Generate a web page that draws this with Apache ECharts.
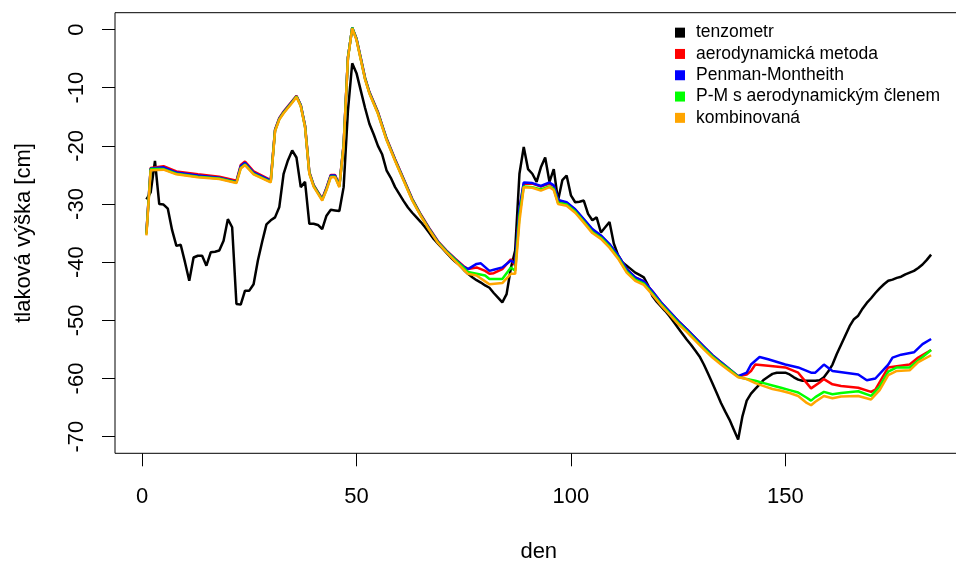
<!DOCTYPE html>
<html lang="cs">
  <head>
    <meta charset="UTF-8" />
    <title>tlaková výška</title>
    <style type="text/css">
      body {
        margin: 0;
        background-color: #fff;
      }

      #main {
        width: 956px;
        height: 561px;
      }
    </style>
  </head>
  <body>
    <div id="main"></div>
    <script src="https://cdn.jsdelivr.net/npm/echarts@6/dist/echarts.min.js"></script>
    <script type="text/javascript">
      // [den, tlaková výška v cm]
      var tenzometr = [
        [1, -29.2], [2, -28], [3, -22.6], [4, -30], [5, -30.1], [6, -30.8], [7, -34.5], [8, -37.2],
        [9, -37], [10, -40], [11, -43.2], [12, -39.2], [13, -38.9], [14, -38.9], [15, -40.6], [16, -38.3],
        [17, -38.2], [18, -38], [19, -36.3], [20, -32.6], [21, -34], [22, -47.2], [23, -47.3], [24, -44.9],
        [25, -44.9], [26, -43.8], [27, -39.7], [28, -36.5], [29, -33.5], [30, -32.8], [31, -32.3], [32, -30.5],
        [33, -24.8], [34, -22.5], [35, -20.8], [36, -22], [37, -27.1], [38, -26.2], [39, -33.4], [40, -33.4],
        [41, -33.6], [42, -34.3], [43, -32], [44, -31], [45, -31.1], [46, -31.2], [47, -27.1], [48, -14],
        [49, -5.8], [50, -7.5], [51, -10.5], [52, -13.5], [53, -16.2], [54, -18], [55, -20], [56, -21.5],
        [57, -24.2], [58, -25.5], [59, -27.1], [60, -28.3], [61, -29.5], [62, -30.6], [63, -31.5], [64, -32.3],
        [65, -33.1], [66, -34], [67, -35], [68, -36], [69, -36.8], [70, -37.6], [71, -38.4], [72, -39.2],
        [73, -39.9], [74, -40.5], [75, -41.3], [76, -42], [77, -42.6], [78, -43.1], [79, -43.5], [80, -44],
        [81, -44.4], [82, -45.3], [83, -46.1], [84, -46.9], [85, -45.5], [86, -41], [87, -38], [88, -24.8],
        [89, -20.2], [90, -24], [91, -24.8], [92, -26.2], [93, -23.7], [94, -22], [95, -26.2], [96, -24],
        [97, -29.4], [98, -25.9], [99, -25.1], [100, -28.5], [101, -29.7], [102, -29.6], [103, -29.4], [104, -31.7],
        [105, -32.8], [106, -32.3], [107, -34.9], [108, -34], [109, -33.1], [110, -36.8], [111, -38.8], [112, -40],
        [113, -40.6], [114, -41.2], [115, -41.8], [116, -42.2], [117, -42.6], [118, -44], [119, -45.8], [120, -46.8],
        [121, -47.6], [122, -48.4], [123, -49.3], [124, -50.3], [125, -51.3], [126, -52.3], [127, -53.3], [128, -54.2],
        [129, -55.2], [130, -56.2], [131, -57.6], [132, -59.2], [133, -60.8], [134, -62.5], [135, -64.2], [136, -65.7],
        [137, -67.1], [138, -68.8], [139, -70.5], [140, -66.5], [141, -63.8], [142, -62.6], [143, -61.8], [144, -61],
        [145, -60.2], [146, -59.7], [147, -59.2], [148, -59], [149, -59], [150, -59], [151, -59.3], [152, -59.8],
        [153, -60.2], [154, -60.4], [155, -60.4], [156, -60.4], [157, -60.4], [158, -60.3], [159, -59.8], [160, -58.8],
        [161, -57.6], [162, -55.8], [163, -54.2], [164, -52.6], [165, -51], [166, -49.8], [167, -49.2], [168, -48],
        [169, -47], [170, -46.2], [171, -45.3], [172, -44.5], [173, -43.8], [174, -43.2], [175, -43], [176, -42.7],
        [177, -42.5], [178, -42.1], [179, -41.8], [180, -41.5], [181, -41], [182, -40.4], [183, -39.6], [184, -38.7]
      ];

      var aerodynamicka = [
        [1, -35], [2, -23.8], [5, -23.5], [8, -24.4], [13, -24.9], [18, -25.3], [22, -26], [23, -23.3],
        [24, -22.7], [26, -24.4], [30, -25.9], [31, -17.2], [32, -15.2], [33, -14.1], [35, -12.3], [36, -11.4],
        [37, -13], [38, -16.5], [39, -24.5], [40, -26.7], [41, -27.9], [42, -29.1], [43, -27.2], [44, -25],
        [45, -25], [46, -26.8], [47, -19.7], [48, -4.8], [49, 0.3], [50, -1.6], [51, -4.9], [52, -8.3],
        [53, -10.7], [55, -14.2], [57, -18.7], [59, -22.3], [61, -25.7], [63, -29.1], [65, -31.8], [67, -34.2],
        [69, -36.4], [71, -38], [73, -39.4], [75, -40.7], [76, -41.2], [78, -40.9], [80, -41.5], [81, -42],
        [82, -41.9], [84, -41.2], [86, -39.5], [87, -40.6], [88, -31], [89, -26.5], [91, -26.5], [93, -27],
        [95, -26.5], [96, -26.9], [97, -29.4], [99, -29.8], [101, -31], [103, -32.7], [105, -34.4], [107, -35.5],
        [109, -37], [111, -38.9], [113, -41.2], [115, -42.6], [117, -43.3], [119, -45], [121, -46.9], [123, -48.5],
        [125, -50.1], [127, -51.5], [129, -53], [131, -54.5], [133, -56], [135, -57.2], [137, -58.4], [139, -59.6],
        [141, -59.3], [142, -58.7], [143, -57.6], [146, -57.8], [150, -58.1], [153, -59], [155, -60.8], [156, -61.7],
        [158, -60.7], [159, -60.1], [161, -61], [163, -61.3], [167, -61.6], [170, -62.3], [171, -61.9], [174, -58.1],
        [176, -57.9], [179, -57.6], [181, -56.4], [184, -55.1]
      ];

      var penmanMontheith = [
        [1, -35], [2, -23.9], [5, -23.7], [8, -24.6], [13, -25.1], [18, -25.5], [22, -26.2], [23, -23.5],
        [24, -22.9], [26, -24.6], [30, -26], [31, -17.3], [32, -15.3], [33, -14.2], [35, -12.4], [36, -11.5],
        [37, -13], [38, -16.6], [39, -24.6], [40, -26.8], [41, -28], [42, -29.2], [43, -27.3], [44, -25.1],
        [45, -25.1], [46, -26.9], [47, -19.8], [48, -4.8], [49, 0.3], [50, -1.6], [51, -5], [52, -8.4],
        [53, -10.8], [55, -14.3], [57, -18.8], [59, -22.4], [61, -25.8], [63, -29.2], [65, -31.9], [67, -34.3],
        [69, -36.5], [71, -38.1], [73, -39.5], [75, -40.8], [76, -41.2], [78, -40.3], [79, -40.2], [81, -41.5],
        [82, -41.3], [84, -40.9], [86, -39.7], [87, -40.2], [88, -30.8], [89, -26.3], [91, -26.4], [93, -26.9],
        [95, -26.3], [96, -26.8], [97, -29.3], [99, -29.7], [101, -30.9], [103, -32.6], [105, -34.3], [107, -35.4],
        [109, -36.9], [111, -38.8], [113, -41.2], [115, -42.6], [117, -43.3], [119, -45], [121, -46.9], [123, -48.5],
        [125, -50.1], [127, -51.5], [129, -53], [131, -54.5], [133, -56], [135, -57.2], [137, -58.4], [139, -59.6],
        [141, -59], [142, -57.6], [144, -56.3], [146, -56.7], [150, -57.6], [153, -58.1], [156, -59], [157, -59],
        [159, -57.6], [161, -58.7], [164, -59], [167, -59.3], [169, -60.3], [171, -60], [174, -57.6], [175, -56.4],
        [177, -55.9], [180, -55.5], [182, -54.1], [184, -53.2]
      ];

      var pmAerodynamicky = [
        [1, -35.2], [2, -24], [5, -24], [8, -24.8], [13, -25.3], [18, -25.6], [22, -26.3], [23, -23.8],
        [24, -23.2], [26, -24.8], [30, -26.2], [31, -17.4], [32, -15.4], [33, -14.3], [35, -12.5], [36, -11.5],
        [37, -13.1], [38, -16.7], [39, -24.7], [40, -26.9], [41, -28.1], [42, -29.3], [43, -27.5], [44, -25.3],
        [45, -25.3], [46, -27], [47, -19.9], [48, -4.9], [49, 0.3], [50, -1.7], [51, -5.1], [52, -8.5],
        [53, -10.9], [55, -14.4], [57, -18.9], [59, -22.5], [61, -25.9], [63, -29.3], [65, -32], [67, -34.4],
        [69, -36.6], [71, -38.2], [73, -39.6], [75, -41], [76, -41.7], [78, -42], [80, -42.3], [81, -42.9],
        [84, -42.9], [86, -40.9], [87, -41.5], [88, -32], [89, -27], [91, -27.1], [93, -27.5], [95, -27],
        [96, -27.4], [97, -29.8], [99, -30.1], [101, -31.3], [103, -33], [105, -34.8], [107, -35.8], [109, -37.3],
        [111, -39.2], [113, -41.6], [115, -43], [117, -43.7], [119, -45.4], [121, -47.2], [123, -48.8], [125, -50.4],
        [127, -51.8], [129, -53.3], [131, -54.8], [133, -56.2], [135, -57.4], [137, -58.5], [139, -59.7], [141, -60.1],
        [143, -60.4], [145, -60.8], [147, -61.2], [149, -61.6], [151, -62], [153, -62.4], [155, -63.3], [156, -63.8],
        [157, -63.2], [159, -62.3], [161, -62.7], [163, -62.5], [167, -62.2], [170, -63], [172, -61.4], [174, -58.8],
        [176, -58.1], [179, -58.1], [181, -56.9], [184, -55.1]
      ];

      var kombinovana = [
        [1, -35.4], [2, -24.2], [5, -24.1], [8, -24.9], [13, -25.4], [18, -25.7], [22, -26.4], [23, -23.9],
        [24, -23.3], [26, -24.9], [30, -26.3], [31, -17.5], [32, -15.5], [33, -14.4], [35, -12.6], [36, -11.6],
        [37, -13.2], [38, -16.8], [39, -24.8], [40, -27], [41, -28.2], [42, -29.4], [43, -27.6], [44, -25.4],
        [45, -25.4], [46, -27.1], [47, -20], [48, -5], [49, 0.2], [50, -1.8], [51, -5.2], [52, -8.6],
        [53, -11], [55, -14.5], [57, -19], [59, -22.6], [61, -26], [63, -29.4], [65, -32.1], [67, -34.5],
        [69, -36.7], [71, -38.3], [73, -39.8], [75, -41.3], [76, -42], [78, -42.3], [80, -43.3], [81, -43.8],
        [84, -43.6], [86, -42], [87, -42], [88, -33], [89, -27.1], [91, -27.2], [93, -27.7], [95, -27.1],
        [96, -27.6], [97, -30], [99, -30.3], [101, -31.5], [103, -33.2], [105, -35], [107, -36], [109, -37.5],
        [111, -39.4], [113, -41.8], [115, -43.2], [117, -43.9], [119, -45.6], [121, -47.4], [123, -49], [125, -50.6],
        [127, -52], [129, -53.5], [131, -55], [133, -56.4], [135, -57.6], [137, -58.7], [139, -59.8], [141, -60.1],
        [143, -60.8], [145, -61.3], [147, -61.8], [149, -62.1], [151, -62.5], [153, -63], [155, -64.2], [156, -64.6],
        [157, -64], [159, -63], [161, -63.4], [163, -63.1], [167, -63], [170, -63.6], [172, -62], [174, -59.4],
        [176, -58.7], [179, -58.6], [181, -57.2], [184, -56]
      ];

      var seriesNames = [
        "tenzometr",
        "aerodynamická metoda",
        "Penman-Montheith",
        "P-M s aerodynamickým členem",
        "kombinovaná"
      ];
      var seriesColors = ["#000000", "#ff0000", "#0000ff", "#00ff00", "#ffa500"];
      var seriesData = [tenzometr, aerodynamicka, penmanMontheith, pmAerodynamicky, kombinovana];

      var xTicks = [0, 50, 100, 150];
      var yTicks = [-70, -60, -50, -40, -30, -20, -10, 0];

      var font = "'Liberation Sans', Arial, sans-serif";

      var chartDom = document.getElementById("main");
      var myChart = echarts.init(chartDom, null, { renderer: "canvas" });

      var option = {
        animation: false,
        backgroundColor: "#fff",
        color: seriesColors,
        textStyle: { fontFamily: font, color: "#000" },
        grid: {
          left: 115,
          top: 12.7,
          width: 847.5,
          height: 440.6,
          outerBoundsMode: "none",
          containLabel: false,
          show: true,
          borderColor: "#000",
          borderWidth: 1,
          backgroundColor: "transparent"
        },
        legend: {
          orient: "vertical",
          left: 675,
          top: 22,
          padding: 0,
          itemGap: 0,
          itemWidth: 10,
          itemHeight: 10,
          icon: "rect",
          data: seriesNames,
          textStyle: {
            fontFamily: font,
            fontSize: 17.5,
            lineHeight: 21.3,
            color: "#000",
            padding: [0, 0, 0, 6]
          }
        },
        xAxis: {
          type: "value",
          min: -6.32,
          max: 191.32,
          name: "den",
          nameLocation: "middle",
          nameGap: 88,
          nameTextStyle: { fontFamily: font, fontSize: 22, color: "#000" },
          axisLine: { show: false, onZero: false },
          splitLine: { show: false },
          axisTick: {
            show: true,
            inside: false,
            length: 13,
            customValues: xTicks,
            lineStyle: { color: "#000", width: 1 }
          },
          axisLabel: {
            customValues: xTicks,
            margin: 33,
            fontFamily: font,
            fontSize: 22,
            color: "#000"
          }
        },
        yAxis: {
          type: "value",
          min: -72.86,
          max: 2.89,
          name: "tlaková výška [cm]",
          nameLocation: "middle",
          nameGap: 80,
          nameTextStyle: { fontFamily: font, fontSize: 22, color: "#000" },
          axisLine: { show: false, onZero: false },
          splitLine: { show: false },
          axisTick: {
            show: true,
            inside: false,
            length: 13,
            customValues: yTicks,
            lineStyle: { color: "#000", width: 1 }
          },
          axisLabel: {
            customValues: yTicks,
            rotate: 90,
            margin: 27,
            fontFamily: font,
            fontSize: 22,
            color: "#000"
          }
        },
        series: seriesNames.map(function (name, i) {
          return {
            name: name,
            type: "line",
            data: seriesData[i],
            showSymbol: false,
            symbol: "none",
            lineStyle: { color: seriesColors[i], width: 2.5 },
            itemStyle: { color: seriesColors[i] },
            z: 2 + i
          };
        })
      };

      myChart.setOption(option);
    </script>
  </body>
</html>
